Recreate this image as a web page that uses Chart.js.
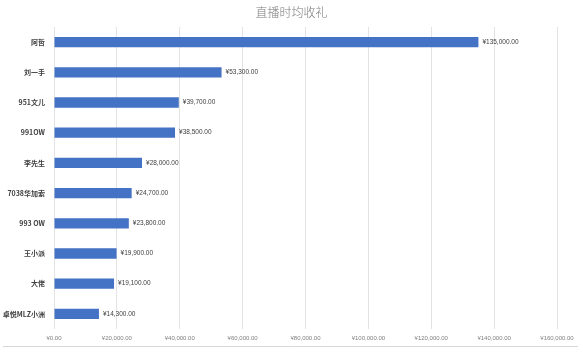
<!DOCTYPE html>
<html><head><meta charset="utf-8">
<script src="https://cdn.jsdelivr.net/npm/chart.js@4/dist/chart.umd.min.js"></script>
<style>html,body{margin:0;padding:0;background:#fff}#wrap{width:583px;height:356px}</style>
</head><body><div id="wrap"><canvas id="c" width="583" height="356"></canvas></div>
<script>
const categories = ["阿哲","刘一手","951文儿","991OW","李先生","7038华加索","993 OW","王小派","大佬","卓悦MLZ小洲"];
const values = [135000,53300,39700,38500,28000,24700,23800,19900,19100,14300];
const xTicks = [0,20000,40000,60000,80000,100000,120000,140000,160000];
const title = "直播时均收礼";

const fmt = v => "¥" + v.toLocaleString("en-US",{minimumFractionDigits:2,maximumFractionDigits:2});

const labelPlugin = {
  id:"lbl",
  afterDatasetsDraw(chart){
    const ctx = chart.ctx;
    const meta = chart.getDatasetMeta(0);
    ctx.save();
    ctx.font = "6.5px 'Liberation Sans', sans-serif";
    ctx.fillStyle = "#404040";
    ctx.textBaseline = "middle";
    meta.data.forEach((b,i)=>{ ctx.fillText(fmt(values[i]), b.x+4, b.y); });
    ctx.restore();
  },
  afterDraw(chart){
    const ctx = chart.ctx;
    ctx.save();
    ctx.font = "300 12px 'Noto Sans CJK SC'";
    ctx.fillStyle = "#7a7a7a";
    ctx.textAlign = "center";
    ctx.textBaseline = "middle";
    ctx.fillText(title, chart.width/2, 12);
    ctx.strokeStyle = "#d9d9d9";
    ctx.lineWidth = 1;
    ctx.beginPath(); ctx.moveTo(3,346.5); ctx.lineTo(578,346.5); ctx.stroke();
    ctx.restore();
  }
};

new Chart(document.getElementById("c"),{
  type:"bar",
  data:{labels:categories,datasets:[{data:values,backgroundColor:"#4472C4",borderWidth:0,barPercentage:0.34,categoryPercentage:1}]},
  options:{
    indexAxis:"y",responsive:false,animation:false,
    layout:{padding:{left:0,right:26,top:27,bottom:10}},
    plugins:{legend:{display:false},tooltip:{enabled:false},title:{display:false}},
    scales:{
      x:{min:0,max:160000,
        afterBuildTicks(s){s.ticks = xTicks.map(v=>({value:v}));},
        afterFit(s){s.height=17;},
        grid:{color:"#e3e3e3",drawTicks:false},border:{display:false},
        ticks:{padding:6,color:"#7f7f7f",font:{family:"'Liberation Sans'",size:6},callback:v=>fmt(v),maxRotation:0,autoSkip:false}},
      y:{afterFit(s){s.width=54;},grid:{display:false,drawTicks:false},border:{display:false},
        ticks:{padding:9,color:"#404040",font:{family:"'Noto Sans CJK SC'",size:7,weight:"bold"}}}
    }
  },
  plugins:[labelPlugin]
});
</script></body></html>
